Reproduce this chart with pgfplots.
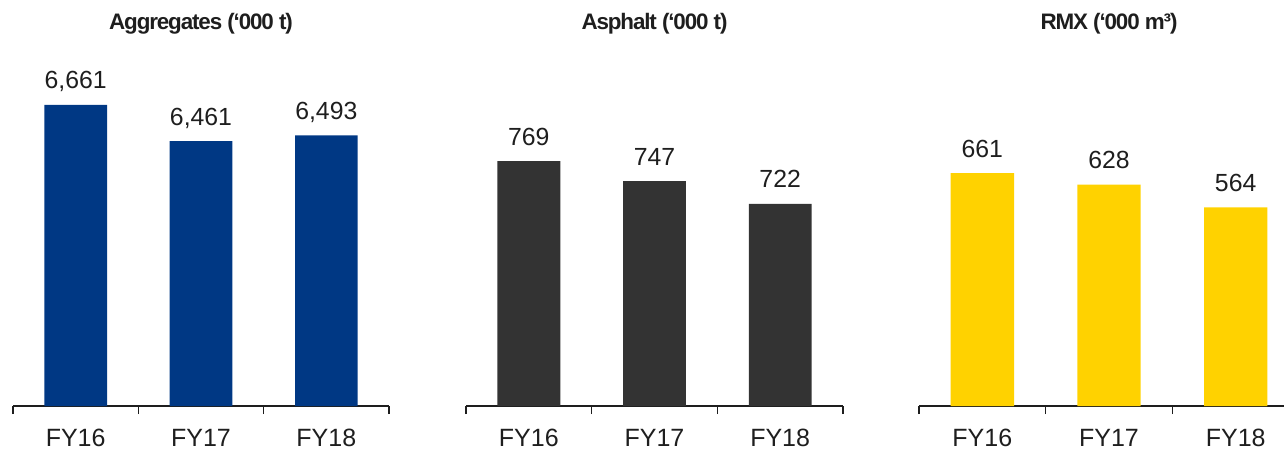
\documentclass[border=0pt]{standalone}
\usepackage{pgfplots}
\pgfplotsset{compat=1.18}
\usepackage{fontspec}
\setmainfont{Liberation Sans}
\newfontfamily\titlefont[LetterSpace=-5]{Liberation Sans}
\definecolor{aggblue}{RGB}{0,56,132}
\definecolor{asphgray}{RGB}{51,51,51}
\definecolor{rmxyellow}{RGB}{255,210,0}
\definecolor{txt}{RGB}{30,30,30}
\pgfplotsset{panel/.style={
  scale only axis, anchor=south west, height=173pt,
  ybar, bar width=0.5, xmin=-0.5, xmax=2.5,
  axis x line*=bottom, axis y line=none,
  xtick={0,1,2}, xticklabels={FY16,FY17,FY18},
  minor xtick={-0.5,0.5,1.5,2.5},
  major tick length=0pt, minor tick length=4pt, tick align=outside,
  x axis line style={line width=0.6pt, txt},
  every minor tick/.style={line width=0.6pt, txt},
  xticklabel style={font=\fontsize{12.5}{14}\selectfont, text=txt, anchor=base, yshift=-20.3pt},
  nodes near coords,
  every node near coord/.append style={font=\fontsize{12.4}{14}\selectfont, text=txt, anchor=base, yshift=8pt},
  /pgf/number format/assume math mode=true, /pgf/number format/1000 sep={,},
  title style={at={(0.5,1)}, anchor=base, yshift=9pt, font=\titlefont\bfseries\fontsize{11.2}{13}\selectfont, text=txt},
}}
\begin{document}
\begin{tikzpicture}
\useasboundingbox (0,0) rectangle (642pt,225pt);
\begin{axis}[panel, at={(6.5pt,22pt)}, width=188pt, ymin=5000, ymax=6909,
  title={Aggregates (‘000 t)}]
\addplot[fill=aggblue, draw=none] coordinates {(0,6661) (1,6461) (2,6493)};
\end{axis}
\begin{axis}[panel, at={(233pt,22pt)}, width=188.5pt, ymin=500, ymax=880,
  title={Asphalt (‘000 t)}]
\addplot[fill=asphgray, draw=none] coordinates {(0,769) (1,747) (2,722)};
\end{axis}
\begin{axis}[panel, at={(459.5pt,22pt)}, width=190pt, ymin=0, ymax=982,
  title={RMX (‘000 m³)}]
\addplot[fill=rmxyellow, draw=none] coordinates {(0,661) (1,628) (2,564)};
\end{axis}
\end{tikzpicture}
\end{document}
